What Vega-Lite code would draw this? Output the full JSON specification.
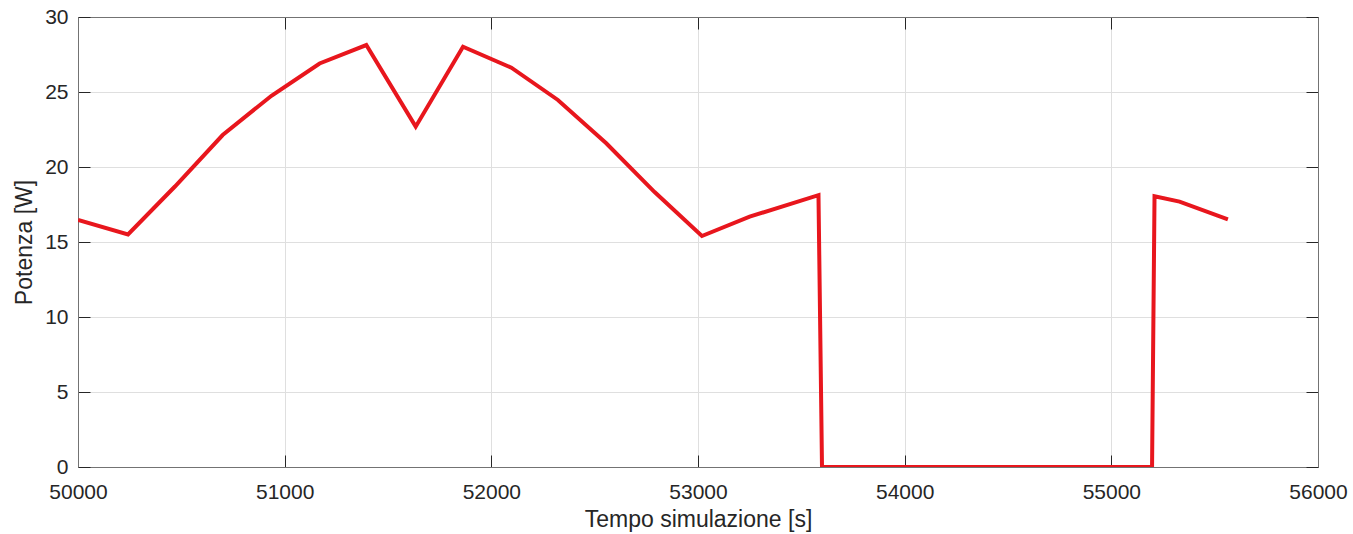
{
  "$schema": "https://vega.github.io/schema/vega-lite/v6.json",
  "autosize": "none",
  "width": 1240,
  "height": 450,
  "padding": {"left": 78, "top": 17, "right": 35, "bottom": 67},
  "background": "white",
  "config": {
    "view": {"stroke": "#737373", "strokeWidth": 1},
    "font": "Liberation Sans",
    "axis": {
      "labelFont": "Liberation Sans",
      "titleFont": "Liberation Sans",
      "labelFontSize": 21,
      "titleFontSize": 23,
      "labelColor": "#262626",
      "titleColor": "#262626",
      "titleFontWeight": "normal",
      "domainColor": "#737373",
      "tickColor": "#262626",
      "gridColor": "#dfdfdf",
      "gridWidth": 1,
      "labelFlush": false,
      "labelOverlap": false
    }
  },
  "data": {
    "values": [
      {"t": 50000, "p": 16.47},
      {"t": 50242, "p": 15.5},
      {"t": 50469, "p": 18.7},
      {"t": 50700, "p": 22.13},
      {"t": 50936, "p": 24.75},
      {"t": 51169, "p": 26.9},
      {"t": 51395, "p": 28.13},
      {"t": 51634, "p": 22.69},
      {"t": 51863, "p": 28.02},
      {"t": 52097, "p": 26.62},
      {"t": 52322, "p": 24.47},
      {"t": 52556, "p": 21.58},
      {"t": 52790, "p": 18.33},
      {"t": 53019, "p": 15.4},
      {"t": 53250, "p": 16.69},
      {"t": 53583, "p": 18.12},
      {"t": 53600, "p": 0},
      {"t": 55197, "p": 0},
      {"t": 55209, "p": 18.05},
      {"t": 55330, "p": 17.69},
      {"t": 55564, "p": 16.51}
    ]
  },
  "layer": [
    {
      "mark": {"type": "line", "color": "#e8161d", "strokeWidth": 4, "strokeJoin": "miter", "clip": true},
      "encoding": {
        "x": {
          "field": "t", "type": "quantitative",
          "scale": {"domain": [50000, 56000], "nice": false, "zero": false},
          "axis": {
            "title": "Tempo simulazione [s]",
            "values": [50000, 51000, 52000, 53000, 54000, 55000, 56000],
            "format": "d",
            "grid": true,
            "tickSize": -12,
            "labelPadding": 26,
            "titlePadding": 6
          }
        },
        "y": {
          "field": "p", "type": "quantitative",
          "scale": {"domain": [0, 30], "nice": false},
          "axis": {
            "title": "Potenza [W]",
            "values": [0, 5, 10, 15, 20, 25, 30],
            "grid": true,
            "tickSize": -12,
            "labelPadding": 22,
            "titlePadding": 8
          }
        }
      }
    },
    {
      "mark": {"type": "point", "opacity": 0},
      "encoding": {
        "x": {
          "field": "t", "type": "quantitative",
          "axis": {
            "orient": "top", "title": null, "labels": false, "grid": false,
            "values": [50000, 51000, 52000, 53000, 54000, 55000, 56000],
            "tickSize": -12
          }
        },
        "y": {
          "field": "p", "type": "quantitative",
          "axis": {
            "orient": "right", "title": null, "labels": false, "grid": false,
            "values": [0, 5, 10, 15, 20, 25, 30],
            "tickSize": -12
          }
        }
      }
    }
  ],
  "resolve": {"axis": {"x": "independent", "y": "independent"}}
}
